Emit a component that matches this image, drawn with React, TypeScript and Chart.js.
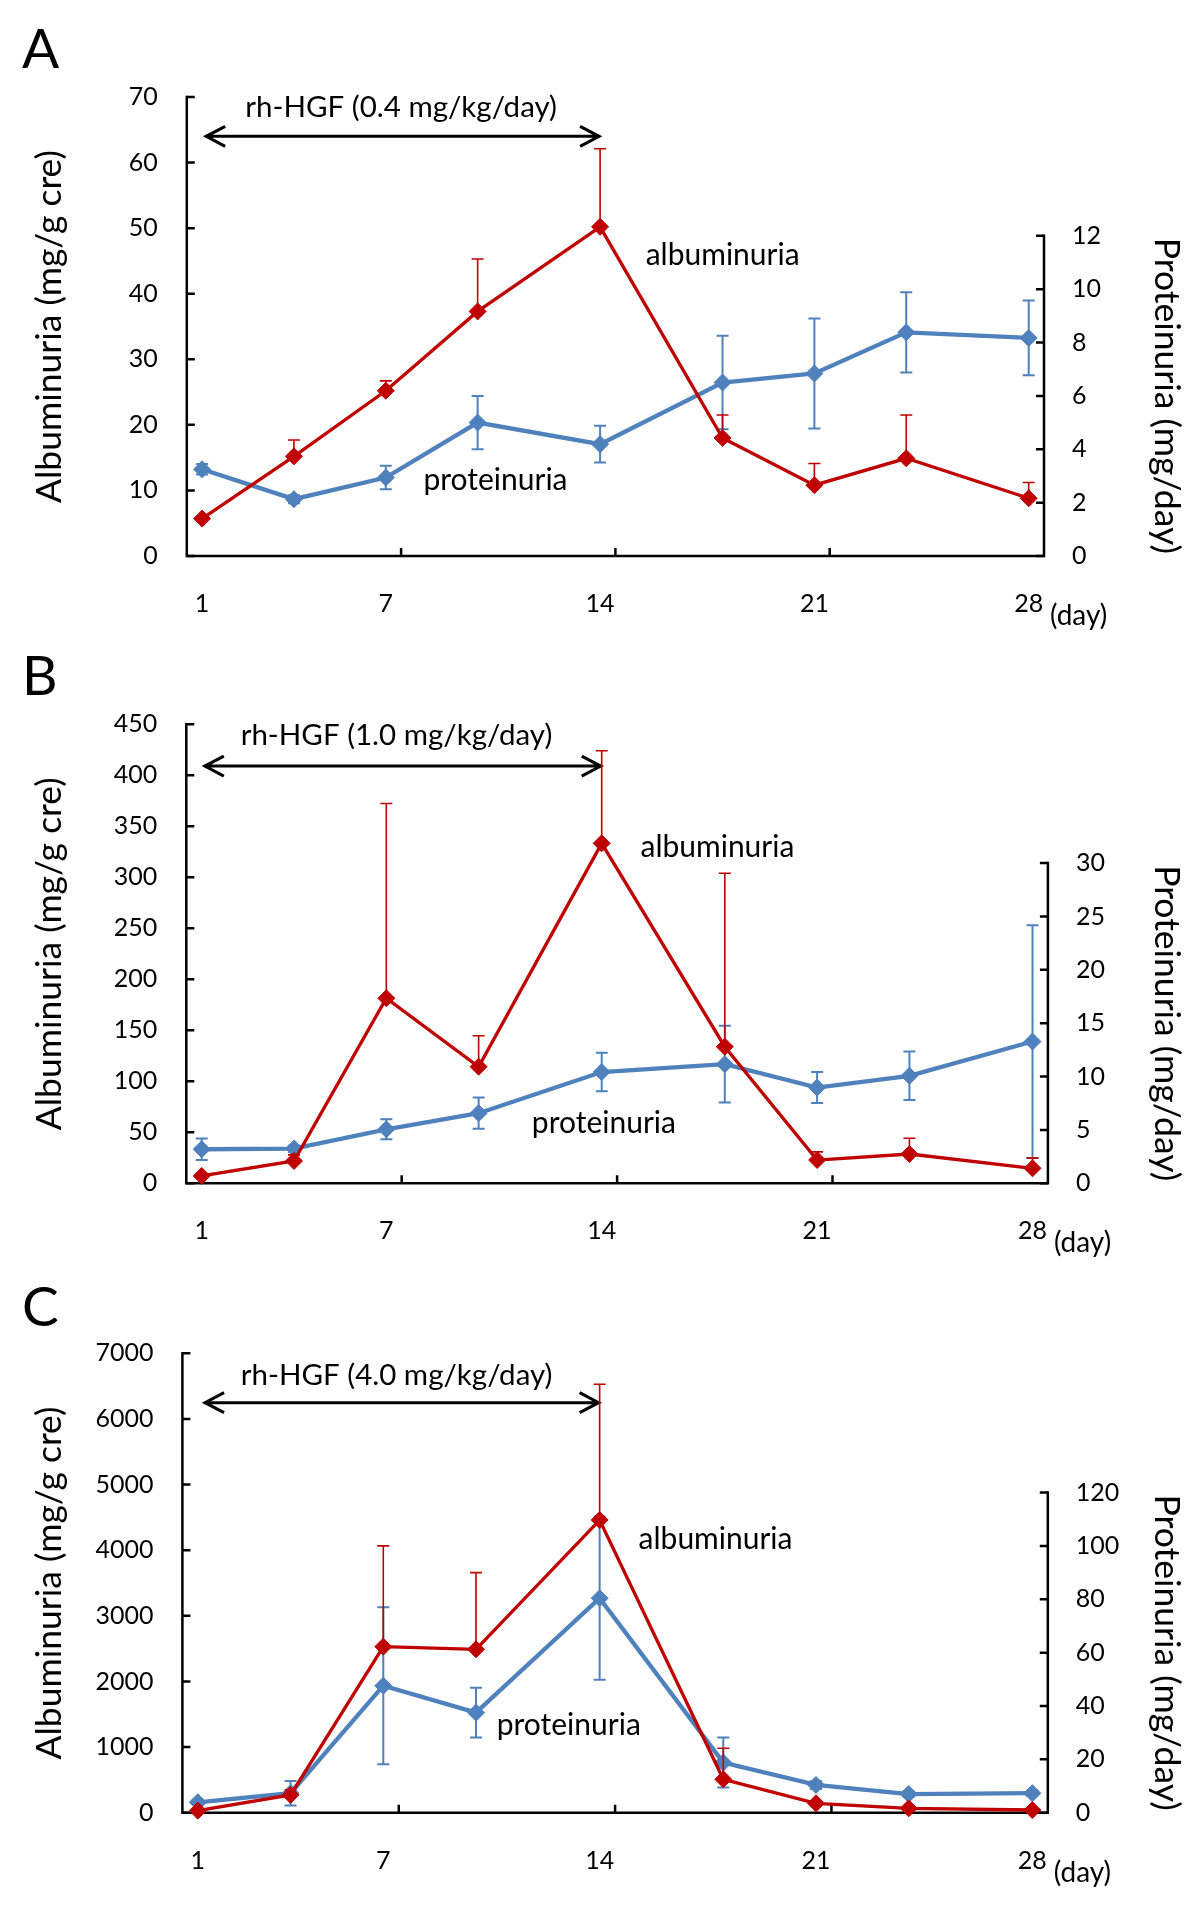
import React, { useEffect, useRef } from "react";
import { Chart, registerables } from "chart.js";

Chart.register(...registerables);

const FONT = "Lato";
const RED = "#C00000";
const BLUE = "#4F81BD";
const PAGE_W = 1200;
const PAGE_H = 1915;

// ---- shared x axis ----
const days = [1, 4, 7, 10, 14, 18, 21, 24, 28];
const dayTickLabels = [1, 7, 14, 21, 28];
const dayTickMarks = [7.5, 14.5, 21.5];
const dayMin = 0.5;
const dayMax = 28.5;

// ---- Panel A (0.4 mg/kg/day) ----
const albuminuriaA = [5.7, 15.2, 25.2, 37.3, 50.2, 18.0, 10.8, 14.9, 8.8];
const albuminuriaSdA = [0.3, 2.5, 1.5, 8.0, 11.9, 3.5, 3.3, 6.6, 2.4];
const proteinuriaA = [3.25, 2.13, 2.94, 5.0, 4.19, 6.5, 6.84, 8.38, 8.17];
const proteinuriaSdA = [0.2, 0.15, 0.44, 1.0, 0.69, 1.75, 2.06, 1.5, 1.4];
const albTicksA = [0, 10, 20, 30, 40, 50, 60, 70];
const protTicksA = [0, 2, 4, 6, 8, 10, 12];

// ---- Panel B (1.0 mg/kg/day) ----
const albuminuriaB = [7.2, 21.9, 181.4, 114.3, 333.3, 133.9, 22.8, 28.7, 14.7];
const albuminuriaSdB = [2, 6, 191, 30.4, 90.7, 170, 8, 15.4, 10];
const proteinuriaB = [3.19, 3.25, 5.06, 6.57, 10.42, 11.16, 8.97, 10.07, 13.28];
const proteinuriaSdB = [1.0, 0.3, 0.94, 1.46, 1.8, 3.6, 1.45, 2.27, 10.9];
const albTicksB = [0, 50, 100, 150, 200, 250, 300, 350, 400, 450];
const protTicksB = [0, 5, 10, 15, 20, 25, 30];

// ---- Panel C (4.0 mg/kg/day) ----
const albuminuriaC = [30, 270, 2530, 2490, 4460, 509, 143, 67, 41];
const albuminuriaSdC = [20, 80, 1535, 1168, 2069, 472, 40, 20, 15];
const proteinuriaC = [3.9, 7.3, 47.6, 37.5, 80.4, 18.8, 10.4, 7.0, 7.3];
const proteinuriaSdC = [1, 4.6, 29.4, 9.3, 30.6, 9.4, 1.5, 1, 1];
const albTicksC = [0, 1000, 2000, 3000, 4000, 5000, 6000, 7000];
const protTicksC = [0, 20, 40, 60, 80, 100, 120];

const leftTitle = "Albuminuria (mg/g cre)";
const rightTitle = "Proteinuria (mg/day)";
const albLabel = "albuminuria";
const protLabel = "proteinuria";
const dayUnit = "(day)";

type PanelSpec = {
  letter: string;
  dose: string;
  canvasTop: number;
  canvasHeight: number;
  area: { left: number; right: number; top: number; bottom: number };
  alb: number[];
  albSd: number[];
  prot: number[];
  protSd: number[];
  albTicks: number[];
  protTicks: number[];
  protMax: number;
  letterBaseline: number;
  arrowFrom: number;
  arrowTo: number;
  arrowY: number;
  doseX: number;
  doseY: number;
  albLabelX: number;
  albLabelY: number;
  protLabelX: number;
  protLabelY: number;
};

const panels: PanelSpec[] = [
  {
    letter: "A",
    dose: "rh-HGF (0.4 mg/kg/day)",
    canvasTop: 0,
    canvasHeight: 635,
    area: { left: 186.8, right: 1044, top: 97, bottom: 556 },
    alb: albuminuriaA,
    albSd: albuminuriaSdA,
    prot: proteinuriaA,
    protSd: proteinuriaSdA,
    albTicks: albTicksA,
    protTicks: protTicksA,
    protMax: 17.2,
    letterBaseline: 68,
    arrowFrom: 1.1,
    arrowTo: 14,
    arrowY: 64,
    doseX: 7.5,
    doseY: 67,
    albLabelX: 15.49,
    albLabelY: 44.4,
    protLabelX: 8.23,
    protLabelY: 10.0,
  },
  {
    letter: "B",
    dose: "rh-HGF (1.0 mg/kg/day)",
    canvasTop: 635,
    canvasHeight: 630,
    area: { left: 186.3, right: 1047.9, top: 89.3, bottom: 548.3 },
    alb: albuminuriaB,
    albSd: albuminuriaSdB,
    prot: proteinuriaB,
    protSd: proteinuriaSdB,
    albTicks: albTicksB,
    protTicks: protTicksB,
    protMax: 43.0,
    letterBaseline: 60,
    arrowFrom: 1.07,
    arrowTo: 14,
    arrowY: 409,
    doseX: 7.33,
    doseY: 429.7,
    albLabelX: 15.26,
    albLabelY: 320,
    protLabelX: 11.73,
    protLabelY: 49,
  },
  {
    letter: "C",
    dose: "rh-HGF (4.0 mg/kg/day)",
    canvasTop: 1265,
    canvasHeight: 650,
    area: { left: 182.4, right: 1047.8, top: 88.3, bottom: 547.7 },
    alb: albuminuriaC,
    albSd: albuminuriaSdC,
    prot: proteinuriaC,
    protSd: proteinuriaSdC,
    albTicks: albTicksC,
    protTicks: protTicksC,
    protMax: 172.2,
    letterBaseline: 61,
    arrowFrom: 1.2,
    arrowTo: 14,
    arrowY: 6248,
    doseX: 7.43,
    doseY: 6518,
    albLabelX: 15.26,
    albLabelY: 4014,
    protLabelX: 10.67,
    protLabelY: 1184,
  },
];

const TICK_FONT = 25;
const DOSE_FONT = 29.5;
const NOTE_FONT = 30;
const TITLE_FONT = 35.5;
const LETTER_FONT = 55;
const DAY_FONT = 28;
const AXIS_W = 2.5;
const TICK_LEN = 8;

function makeLookPlugin(p: PanelSpec) {
  return {
    id: "excelLook",
    beforeDatasetsDraw(chart: any) {
      const { ctx, chartArea: a } = chart;
      const xs = chart.scales.x;
      const yl = chart.scales.y;
      const yr = chart.scales.y1;
      ctx.save();
      // axes
      ctx.strokeStyle = "#000";
      ctx.lineWidth = AXIS_W;
      ctx.lineCap = "square";
      ctx.lineJoin = "miter";
      const rTop = yr.getPixelForValue(p.protTicks[p.protTicks.length - 1]);
      ctx.beginPath();
      ctx.moveTo(a.left, a.top);
      ctx.lineTo(a.left, a.bottom);
      ctx.lineTo(a.right, a.bottom);
      ctx.lineTo(a.right, rTop);
      ctx.stroke();
      // tick marks (inside)
      ctx.lineCap = "butt";
      ctx.beginPath();
      yl.ticks.forEach((t: any) => {
        const y = yl.getPixelForValue(t.value);
        ctx.moveTo(a.left, y);
        ctx.lineTo(a.left + TICK_LEN, y);
      });
      yr.ticks.forEach((t: any) => {
        const y = yr.getPixelForValue(t.value);
        ctx.moveTo(a.right, y);
        ctx.lineTo(a.right - TICK_LEN, y);
      });
      dayTickMarks.forEach((d) => {
        const x = xs.getPixelForValue(d);
        ctx.moveTo(x, a.bottom);
        ctx.lineTo(x, a.bottom - TICK_LEN);
      });
      ctx.stroke();

      // double arrow
      const ay = yl.getPixelForValue(p.arrowY);
      const ax1 = xs.getPixelForValue(p.arrowFrom);
      const ax2 = xs.getPixelForValue(p.arrowTo);
      ctx.lineWidth = 3;
      ctx.beginPath();
      ctx.moveTo(ax1, ay);
      ctx.lineTo(ax2, ay);
      ctx.moveTo(ax1 + 20, ay - 10);
      ctx.lineTo(ax1 + 1, ay);
      ctx.lineTo(ax1 + 20, ay + 10);
      ctx.moveTo(ax2 - 20, ay - 10);
      ctx.lineTo(ax2 - 1, ay);
      ctx.lineTo(ax2 - 20, ay + 10);
      ctx.stroke();

      // texts
      ctx.fillStyle = "#000";
      ctx.textBaseline = "alphabetic";
      ctx.font = `${DOSE_FONT}px ${FONT}`;
      ctx.textAlign = "center";
      ctx.fillText(p.dose, xs.getPixelForValue(p.doseX), yl.getPixelForValue(p.doseY));
      ctx.font = `${NOTE_FONT}px ${FONT}`;
      ctx.textAlign = "left";
      ctx.fillText(albLabel, xs.getPixelForValue(p.albLabelX), yl.getPixelForValue(p.albLabelY));
      ctx.fillText(protLabel, xs.getPixelForValue(p.protLabelX), yl.getPixelForValue(p.protLabelY));

      // unit
      ctx.font = `${DAY_FONT}px ${FONT}`;
      ctx.textAlign = "left";
      ctx.fillText(dayUnit, xs.getPixelForValue(dayMax) + 6, a.bottom + 69);

      // panel letter
      ctx.font = `${LETTER_FONT}px ${FONT}`;
      ctx.fillText(p.letter, 22, p.letterBaseline);

      // axis titles
      ctx.font = `${TITLE_FONT}px ${FONT}`;
      ctx.textAlign = "center";
      ctx.save();
      ctx.translate(61, (a.top + a.bottom) / 2);
      ctx.rotate(-Math.PI / 2);
      ctx.fillText(leftTitle, 0, 0);
      ctx.restore();
      ctx.save();
      const rc = (yr.getPixelForValue(0) + rTop) / 2;
      ctx.translate(1155, rc);
      ctx.rotate(Math.PI / 2);
      ctx.fillText(rightTitle, 0, 0);
      ctx.restore();

      ctx.restore();
    },
    afterDatasetDraw(chart: any, args: any) {
      const ctx = chart.ctx;
      const meta = args.meta;
      const idx = args.index;
      const isAlb = idx === 0;
      const values = isAlb ? p.alb : p.prot;
      const sds = isAlb ? p.albSd : p.protSd;
      const yScale = chart.scales[meta.yAxisID];
      ctx.save();
      ctx.strokeStyle = isAlb ? RED : BLUE;
      ctx.lineWidth = isAlb ? 1.6 : 2;
      const cap = 6;
      meta.data.forEach((pt: any, i: number) => {
        const v = values[i];
        const e = sds[i];
        const x = pt.x;
        const yTop = yScale.getPixelForValue(v + e);
        const yBot = isAlb ? pt.y : yScale.getPixelForValue(v - e);
        ctx.beginPath();
        ctx.moveTo(x, yBot);
        ctx.lineTo(x, yTop);
        ctx.moveTo(x - cap, yTop);
        ctx.lineTo(x + cap, yTop);
        if (!isAlb) {
          ctx.moveTo(x - cap, yBot);
          ctx.lineTo(x + cap, yBot);
        }
        ctx.stroke();
      });
      ctx.restore();
    },
  };
}

function buildConfig(p: PanelSpec): any {
  const tickFont = { family: FONT, size: TICK_FONT };
  return {
    type: "line",
    data: {
      datasets: [
        {
          label: "albuminuria",
          data: days.map((d, i) => ({ x: d, y: p.alb[i] })),
          yAxisID: "y",
          borderColor: RED,
          backgroundColor: RED,
          borderWidth: 3.3,
          pointStyle: "rectRot",
          pointRadius: 8.5,
          pointBorderWidth: 1,
          pointBackgroundColor: RED,
          pointBorderColor: RED,
          tension: 0,
          clip: false,
        },
        {
          label: "proteinuria",
          data: days.map((d, i) => ({ x: d, y: p.prot[i] })),
          yAxisID: "y1",
          borderColor: BLUE,
          backgroundColor: BLUE,
          borderWidth: 4.3,
          pointStyle: "rectRot",
          pointRadius: 8.5,
          pointBorderWidth: 1,
          pointBackgroundColor: BLUE,
          pointBorderColor: BLUE,
          tension: 0,
          clip: false,
        },
      ],
    },
    options: {
      responsive: false,
      animation: false,
      events: [],
      layout: { padding: { top: p.area.top, left: 0, right: 0, bottom: 0 } },
      plugins: {
        legend: { display: false },
        tooltip: { enabled: false },
        title: { display: false },
      },
      scales: {
        x: {
          type: "linear",
          min: dayMin,
          max: dayMax,
          afterBuildTicks: (s: any) => {
            s.ticks = dayTickLabels.map((v) => ({ value: v }));
          },
          grid: { display: false, drawTicks: false },
          border: { display: false },
          ticks: {
            font: tickFont,
            color: "#000",
            padding: 33,
            maxRotation: 0,
            autoSkip: false,
            callback: (v: any) => String(v),
          },
          afterFit: (s: any) => {
            s.height = p.canvasHeight - p.area.bottom;
          },
        },
        y: {
          position: "left",
          min: 0,
          max: p.albTicks[p.albTicks.length - 1],
          afterBuildTicks: (s: any) => {
            s.ticks = p.albTicks.map((v) => ({ value: v }));
          },
          grid: { display: false, drawTicks: false },
          border: { display: false },
          ticks: {
            font: tickFont,
            color: "#000",
            padding: 29,
            autoSkip: false,
            callback: (v: any) => String(v),
          },
          afterFit: (s: any) => {
            s.width = p.area.left;
          },
        },
        y1: {
          position: "right",
          min: 0,
          max: p.protMax,
          afterBuildTicks: (s: any) => {
            s.ticks = p.protTicks.map((v) => ({ value: v }));
          },
          grid: { display: false, drawTicks: false },
          border: { display: false },
          ticks: {
            font: tickFont,
            color: "#000",
            padding: 28,
            autoSkip: false,
            callback: (v: any) => String(v),
          },
          afterFit: (s: any) => {
            s.width = PAGE_W - p.area.right;
          },
        },
      },
    },
    plugins: [makeLookPlugin(p)],
  };
}

function Panel({ p }: { p: PanelSpec }) {
  const ref = useRef<HTMLCanvasElement>(null);
  useEffect(() => {
    if (!ref.current) return;
    const chart = new Chart(ref.current, buildConfig(p));
    return () => chart.destroy();
  }, [p]);
  return (
    <canvas
      ref={ref}
      width={PAGE_W}
      height={p.canvasHeight}
      style={{
        position: "absolute",
        left: 0,
        top: p.canvasTop,
        width: PAGE_W,
        height: p.canvasHeight,
        display: "block",
      }}
    />
  );
}

export default function App() {
  return (
    <div style={{ position: "absolute", left: 0, top: 0, width: PAGE_W, height: PAGE_H, background: "#fff" }}>
      {panels.map((p) => (
        <Panel key={p.letter} p={p} />
      ))}
    </div>
  );
}
